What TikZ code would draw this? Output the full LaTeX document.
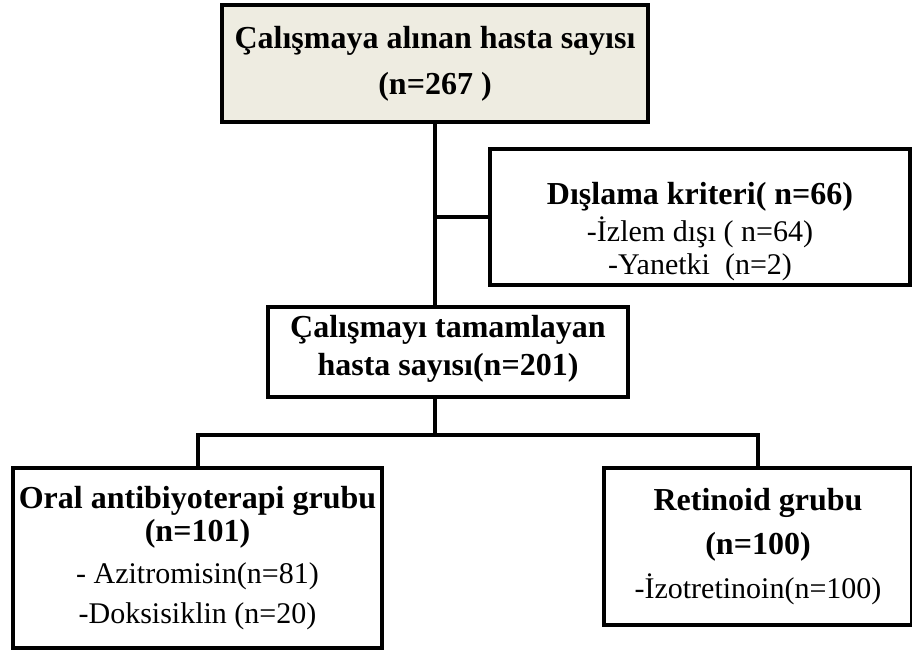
\documentclass[tikz,border=0pt]{standalone}
\usepackage{fontspec}
\setmainfont{Liberation Serif}
\definecolor{topfill}{RGB}{238,236,225}
\newcommand{\boldline}[1]{{\fontsize{32}{38}\selectfont\bfseries #1}}
\tikzset{
  box/.style={draw, line width=4pt, align=center, inner sep=0pt, font=\fontsize{30}{36}\selectfont},
  link/.style={line width=4pt}
}
\begin{document}
\begin{tikzpicture}[x=1pt,y=-1pt]
\useasboundingbox (0,0) rectangle (912,653);
\node[box, fill=topfill, minimum width=426pt, minimum height=117pt] (top) at (435,63.5)
  {\boldline{Çalışmaya alınan hasta sayısı}\\[10pt] \boldline{(n=267 )}};
\node[box, minimum width=420pt, minimum height=136pt] (excl) at (700,217)
  {\rule{0pt}{51pt}\boldline{Dışlama kriteri( n=66)}\\[1pt] -İzlem dışı ( n=64)\\[-3pt] -Yanetki\ \ (n=2)};
\node[box, minimum width=360pt, minimum height=90pt] (compl) at (448,352)
  {\boldline{Çalışmayı tamamlayan}\\[2pt] \boldline{hasta sayısı(n=201)}\rule[-14pt]{0pt}{1pt}};
\node[box, minimum width=369pt, minimum height=180pt] (oral) at (197.5,558)
  {\boldline{Oral antibiyoterapi grubu}\\[-3pt] \boldline{(n=101)}\\[6pt] - Azitromisin(n=81)\\[4pt] -Doksisiklin (n=20)};
\node[box, minimum width=308pt, minimum height=157pt] (retin) at (758,546.5)
  {\boldline{Retinoid grubu}\\[8pt] \boldline{(n=100)}\\[8pt] -İzotretinoin(n=100)};
% connectors
\coordinate (split) at (435,435);
\draw[link] (top.south) -- (top.south |- compl.north);
\draw[link] (top.south |- excl.west) -- (excl.west);
\draw[link] (top.south |- compl.south) -- (split);
\draw[link] (oral.north) |- (split) -| (retin.north);
\end{tikzpicture}
\end{document}
